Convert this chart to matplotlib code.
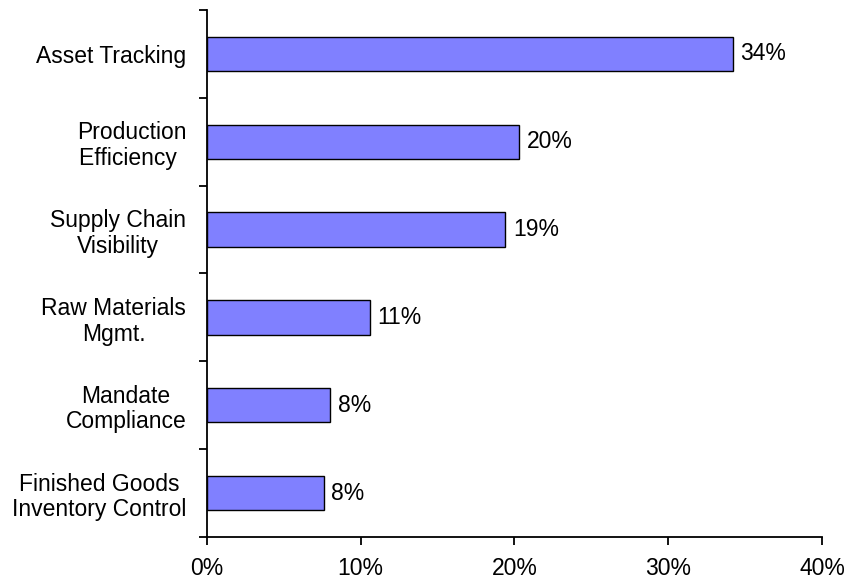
import matplotlib
matplotlib.use("Agg")
import matplotlib.pyplot as plt
import numpy as np

categories = [
    "Asset Tracking",
    "Production\nEfficiency ",
    "Supply Chain\nVisibility",
    "Raw Materials\nMgmt.",
    "Mandate\nCompliance",
    "Finished Goods\nInventory Control",
]
shares = [34.2, 20.3, 19.4, 10.6, 8.0, 7.6]
x_ticks = [0, 10, 20, 30, 40]
x_tick_labels = ["0%", "10%", "20%", "30%", "40%"]

plt.rcParams["font.family"] = ["Liberation Sans", "DejaVu Sans"]
FS = 16.5

fig = plt.figure(figsize=(8.5, 5.8), dpi=100)
ax = fig.add_axes([0.2435, 0.0741, 0.967 - 0.2435, 0.9828 - 0.0741])

n = len(categories)
ypos = np.arange(n)
ax.barh(ypos, shares, height=0.39, color="#8080FF",
        edgecolor="black", linewidth=1.0, zorder=3)

for y, v in zip(ypos, shares):
    ax.annotate(f"{v:.0f}%", xy=(v, y), xytext=(5.5, 0),
                textcoords="offset points", ha="left", va="center",
                fontsize=FS, color="black")

ax.set_ylim(n - 0.5, -0.5)
ax.set_xlim(0, 40)

ax.set_yticks(ypos)
ax.set_yticklabels(categories, fontsize=FS, multialignment="center",
                   linespacing=1.15)
ax.set_yticks(np.arange(-0.5, n, 1.0), minor=True)
ax.tick_params(axis="y", which="major", length=0, pad=15)
ax.tick_params(axis="y", which="minor", length=5.5, width=1.3, direction="out")

ax.set_xticks(x_ticks)
ax.set_xticklabels(x_tick_labels, fontsize=FS)
ax.tick_params(axis="x", which="major", length=5.5, width=1.3,
               direction="out", pad=9)

for side in ("top", "right"):
    ax.spines[side].set_visible(False)
for side in ("left", "bottom"):
    ax.spines[side].set_linewidth(1.3)

fig.savefig("out.png", dpi=100)
